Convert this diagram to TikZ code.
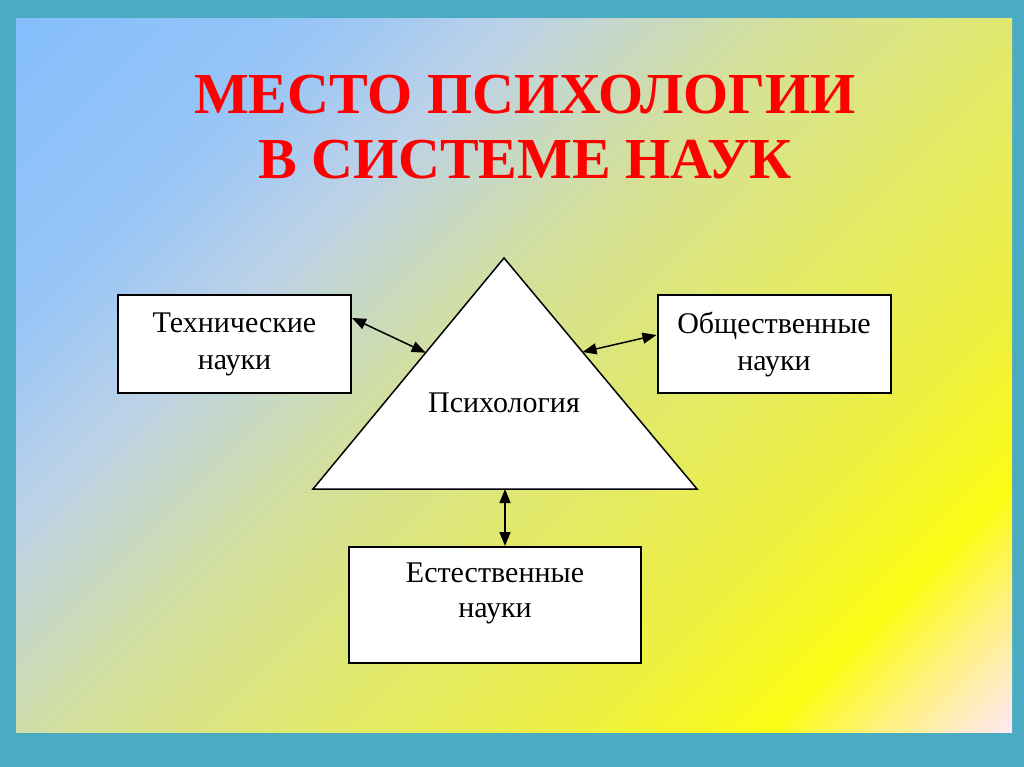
\documentclass[tikz,border=0pt]{standalone}
\usepackage{fontspec}
\setmainfont{Liberation Serif}
\usetikzlibrary{arrows.meta,calc}
\definecolor{rahmen}{HTML}{4BABC2}
\definecolor{bgA}{HTML}{84BEFC}
\definecolor{bgB}{HTML}{98C5F6}
\definecolor{bgC}{HTML}{BCD2E8}
\definecolor{bgD}{HTML}{D4E09A}
\definecolor{bgE}{HTML}{E2E96A}
\definecolor{bgF}{HTML}{EEF040}
\definecolor{bgG}{HTML}{FCFC14}
\definecolor{bgH}{HTML}{FFF27A}
\definecolor{bgI}{HTML}{FFE8F2}
\pgfdeclareverticalshading{hintergrund}{100bp}{color(0bp)=(bgI); color(14.64bp)=(bgI); color(20.3bp)=(bgH); color(24.6bp)=(bgG); color(32.3bp)=(bgF); color(43.1bp)=(bgE); color(53.5bp)=(bgD); color(64.5bp)=(bgC); color(72.6bp)=(bgB); color(85.36bp)=(bgA); color(100bp)=(bgA)}
\begin{document}
\begin{tikzpicture}[x=1pt, y=-1pt, box style/.style={draw, line width=2pt, fill=white, minimum width=233pt, minimum height=98pt, align=center, font=\fontsize{30}{37}\selectfont}, text style/.style={align=center, font=\fontsize{30}{35}\selectfont}, pfeil/.style={{Triangle[length=14pt,width=11pt]}-{Triangle[length=14pt,width=11pt]}, line width=1.5pt}]
	\useasboundingbox (0, 0) rectangle (1024, 767);
	\fill[rahmen] (0, 0) rectangle (1024, 767);
	\shade[shading=hintergrund, shading angle=45] (16, 19) rectangle (1012, 732);
	\node[align=center, text=red, font=\fontsize{58}{65}\selectfont\bfseries] (S0) at (525, 127) {МЕСТО ПСИХОЛОГИИ\\В СИСТЕМЕ НАУК};
	\coordinate (D1) at (504, 258);
	\coordinate (D2) at (313, 489);
	\coordinate (D3) at (697, 489);
	\filldraw[fill=white, line width=1.5pt] (D1) -- (D2) -- (D3) -- cycle;
	\node[text style] (S1) at (504, 403) {Психология};
	\node[box style] (S2) at (234.5, 344) {Технические\\науки};
	\node[box style] (S3) at (774, 344) {Общественные\\науки};
	\node[box style, minimum width=292pt, minimum height=116pt] (S4) at (495, 605) {};
	\node[text style] (S5) at ($(S4.center)+(0, -12)$) {Естественные\\науки};
	\coordinate (K1) at ($(S2.east)+(0, -26)$);
	\coordinate (K2) at ($(D2)!0.59!(D1)$);
	\coordinate (K3) at ($(D3)!0.593!(D1)$);
	\coordinate (K4) at ($(S3.west)+(0, -9)$);
	\coordinate (K5) at (505, 489);
	\draw[pfeil] (K1) -- (K2);
	\draw[pfeil] (K3) -- (K4);
	\draw[pfeil] (K5) -- (K5 |- S4.north);
\end{tikzpicture}
\end{document}
